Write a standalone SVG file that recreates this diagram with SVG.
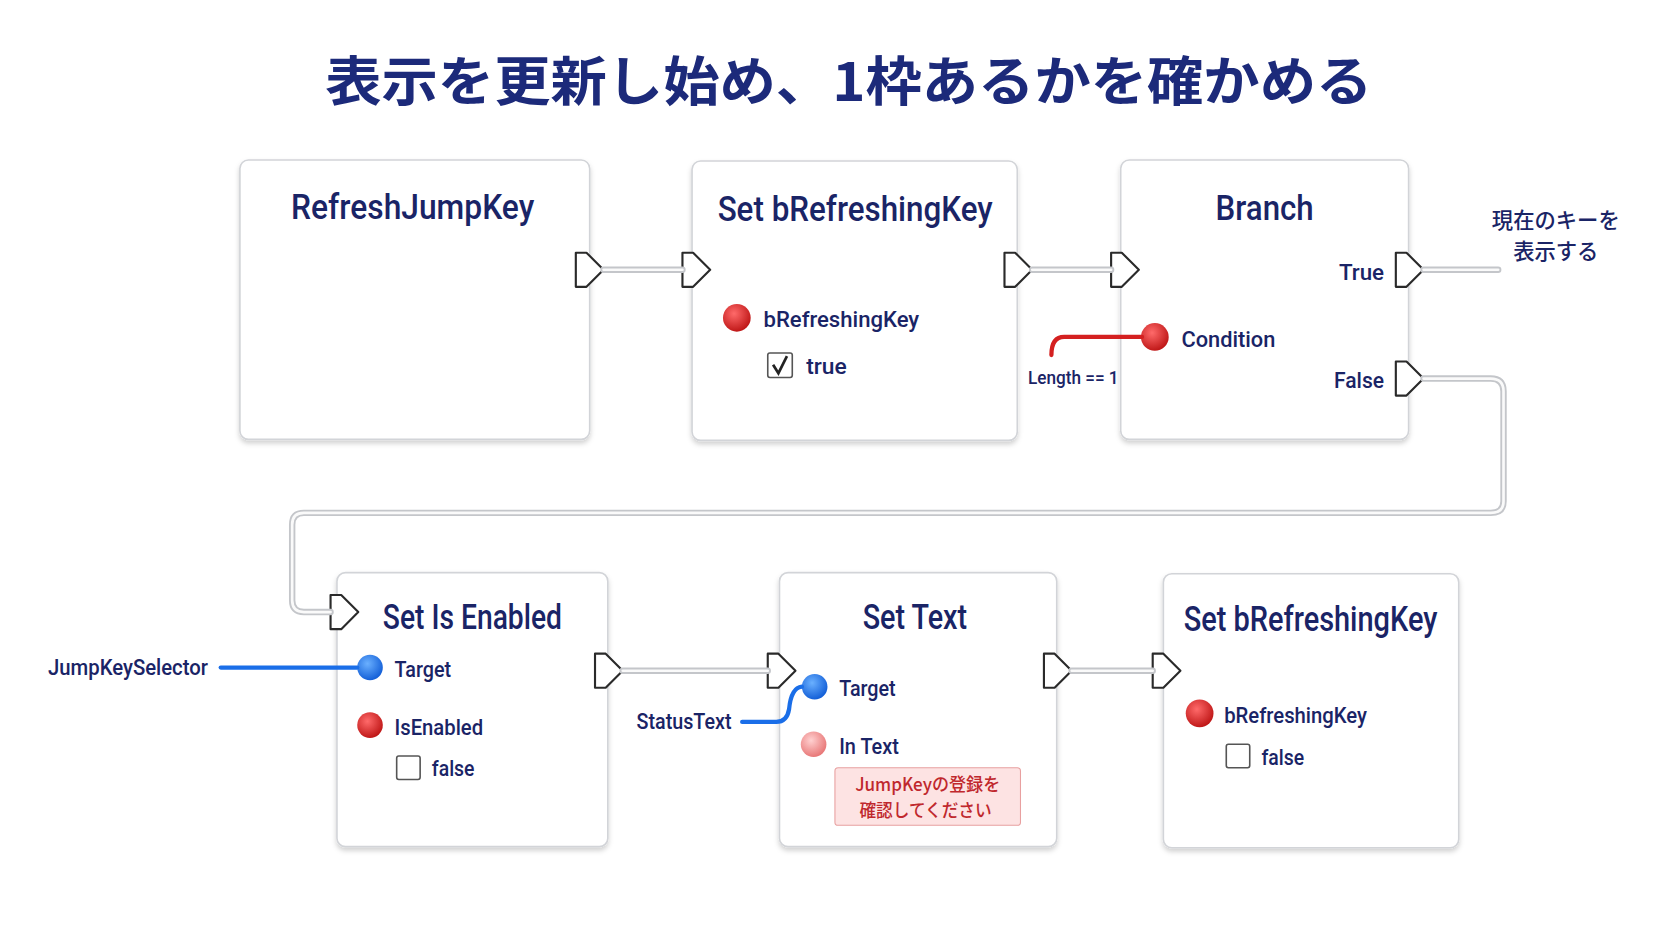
<svg xmlns="http://www.w3.org/2000/svg" width="1672" height="941" viewBox="0 0 1672 941">
<style>
.node{fill:#fff;stroke:#d2d4d8;stroke-width:1.5}
.t{font-family:Roboto,"Liberation Sans",sans-serif;fill:#1a2466;font-weight:500}
.title{font-size:33px;text-anchor:middle}
.lab{font-size:21px}
.exec{fill:#fff;stroke:#2a2a2a;stroke-width:2;stroke-linejoin:round}
.wo{fill:none;stroke:#c4c6ca;stroke-width:6;stroke-linecap:round}
.wi{fill:none;stroke:#fafafa;stroke-width:2.5;stroke-linecap:round}
.cb{fill:#fff;stroke:#555;stroke-width:1.5}
.jp{font-family:"Noto Sans CJK JP",sans-serif}
</style>
<defs>
<filter id="sh" x="-10%" y="-10%" width="120%" height="125%"><feDropShadow dx="0" dy="3" stdDeviation="2.5" flood-color="#000" flood-opacity="0.18"/></filter>
<radialGradient id="red" cx="40%" cy="35%" r="65%"><stop offset="0" stop-color="#ff6a6a"/><stop offset="1" stop-color="#c01818"/></radialGradient>
<radialGradient id="blue" cx="40%" cy="35%" r="65%"><stop offset="0" stop-color="#6ab0ff"/><stop offset="1" stop-color="#1460d8"/></radialGradient>
<radialGradient id="pink" cx="40%" cy="35%" r="65%"><stop offset="0" stop-color="#ffd0d0"/><stop offset="1" stop-color="#e87878"/></radialGradient>
<path id="ex" d="M0,-16 L10,-16 L26,0 L10,16 L0,16 Z"/>
</defs>
<g transform="scale(1.06633)">
<text x="796" y="95" text-anchor="middle" class="jp" font-size="50" font-weight="bold" fill="#1c2a7a" textLength="982" lengthAdjust="spacingAndGlyphs">表示を更新し始め、1枠あるかを確かめる</text>

<g id="n1"><rect class="node" filter="url(#sh)" x="225" y="150" width="328" height="262" rx="8"/>
<text class="t title" x="387" y="205" textLength="228" lengthAdjust="spacingAndGlyphs">RefreshJumpKey</text>
<use href="#ex" class="exec" x="540" y="253"/></g>

<g id="n2"><rect class="node" filter="url(#sh)" x="649" y="151" width="305" height="262" rx="8"/>
<text class="t title" x="802" y="207" textLength="258" lengthAdjust="spacingAndGlyphs">Set bRefreshingKey</text>
<use href="#ex" class="exec" x="640" y="253"/><use href="#ex" class="exec" x="942" y="253"/>
<circle cx="691" cy="298" r="13" fill="url(#red)"/>
<text class="t lab" x="716" y="307" textLength="146" lengthAdjust="spacingAndGlyphs">bRefreshingKey</text>
<rect class="cb" x="720" y="331" width="23" height="23" rx="2"/>
<path d="M725,342 L730,350 L738,334" fill="none" stroke="#222" stroke-width="2.5"/>
<text class="t lab" x="756" y="351" textLength="38" lengthAdjust="spacingAndGlyphs">true</text></g>

<g id="n3"><rect class="node" filter="url(#sh)" x="1051" y="150" width="270" height="262" rx="8"/>
<text class="t title" x="1186" y="206" textLength="92" lengthAdjust="spacingAndGlyphs">Branch</text>
<use href="#ex" class="exec" x="1042" y="253"/><use href="#ex" class="exec" x="1309" y="253"/><use href="#ex" class="exec" x="1309" y="355"/>
<text class="t lab" x="1298" y="263" text-anchor="end">True</text>
<text class="t lab" x="1298" y="364" text-anchor="end" textLength="47" lengthAdjust="spacingAndGlyphs">False</text>
<circle cx="1083" cy="316" r="13" fill="url(#red)"/>
<text class="t lab" x="1108" y="325" textLength="88" lengthAdjust="spacingAndGlyphs">Condition</text></g>
<text class="t" x="964" y="360" font-size="17" textLength="85" lengthAdjust="spacingAndGlyphs">Length == 1</text>
<text class="jp" x="1459" y="214" text-anchor="middle" font-size="20" fill="#1a2466" font-weight="500">現在のキーを</text>
<text class="jp" x="1459" y="243" text-anchor="middle" font-size="20" fill="#1a2466" font-weight="500">表示する</text>

<g id="n4"><rect class="node" filter="url(#sh)" x="316" y="537" width="254" height="257" rx="8"/>
<text class="t title" x="443" y="590" textLength="168" lengthAdjust="spacingAndGlyphs">Set Is Enabled</text>
<use href="#ex" class="exec" x="310" y="574"/><use href="#ex" class="exec" x="558" y="629"/>
<circle cx="347" cy="626" r="12" fill="url(#blue)"/>
<text class="t lab" x="370" y="635" textLength="53" lengthAdjust="spacingAndGlyphs">Target</text>
<circle cx="347" cy="680" r="12" fill="url(#red)"/>
<text class="t lab" x="370" y="689" textLength="83" lengthAdjust="spacingAndGlyphs">IsEnabled</text>
<rect class="cb" x="372" y="709" width="22" height="22" rx="2"/>
<text class="t lab" x="405" y="728" textLength="40" lengthAdjust="spacingAndGlyphs">false</text></g>
<text class="t" x="195" y="633" font-size="20" text-anchor="end" textLength="150" lengthAdjust="spacingAndGlyphs">JumpKeySelector</text>
<text class="t" x="686" y="684" font-size="20" text-anchor="end" textLength="89" lengthAdjust="spacingAndGlyphs">StatusText</text>

<g id="n5"><rect class="node" filter="url(#sh)" x="731" y="537" width="260" height="257" rx="8"/>
<text class="t title" x="858" y="590" textLength="98" lengthAdjust="spacingAndGlyphs">Set Text</text>
<use href="#ex" class="exec" x="720" y="629"/><use href="#ex" class="exec" x="979" y="629"/>
<circle cx="764" cy="644" r="12" fill="url(#blue)"/>
<text class="t lab" x="787" y="653" textLength="53" lengthAdjust="spacingAndGlyphs">Target</text>
<circle cx="763" cy="698" r="12" fill="url(#pink)"/>
<text class="t lab" x="787" y="707" textLength="56" lengthAdjust="spacingAndGlyphs">In Text</text>
<rect x="783" y="720" width="174" height="54" rx="3" fill="#fde3e3" stroke="#e8a0a0"/>
<text class="jp" x="870" y="742" text-anchor="middle" font-size="17" fill="#c0282d" font-weight="500" textLength="136" lengthAdjust="spacingAndGlyphs">JumpKeyの登録を</text>
<text class="jp" x="868" y="766" text-anchor="middle" font-size="17" fill="#c0282d" font-weight="500" textLength="124" lengthAdjust="spacingAndGlyphs">確認してください</text></g>

<g id="n6"><rect class="node" filter="url(#sh)" x="1091" y="538" width="277" height="257" rx="8"/>
<text class="t title" x="1229" y="592" textLength="238" lengthAdjust="spacingAndGlyphs">Set bRefreshingKey</text>
<use href="#ex" class="exec" x="1081" y="629"/>
<circle cx="1125" cy="669" r="13" fill="url(#red)"/>
<text class="t lab" x="1148" y="678" textLength="134" lengthAdjust="spacingAndGlyphs">bRefreshingKey</text>
<rect class="cb" x="1150" y="698" width="22" height="22" rx="2"/>
<text class="t lab" x="1183" y="717" textLength="40" lengthAdjust="spacingAndGlyphs">false</text></g>

<g id="connectors">
<path class="wo" d="M566,253 H640 M968,253 H1042 M1335,253 H1405 M584,629 H720 M1005,629 H1081 M1335,355 H1398 Q1410,355 1410,367 V470 Q1410,481 1398,481 H285 Q274,481 274,492 V563 Q274,574 285,574 H310"/>
<path class="wi" d="M566,253 H640 M968,253 H1042 M1335,253 H1405 M584,629 H720 M1005,629 H1081 M1335,355 H1398 Q1410,355 1410,367 V470 Q1410,481 1398,481 H285 Q274,481 274,492 V563 Q274,574 285,574 H310"/>
<path d="M1071,316 H998 Q986,316 986,333" fill="none" stroke="#d42020" stroke-width="4" stroke-linecap="round"/>
<path d="M207,626 H335" fill="none" stroke="#1a6ee8" stroke-width="4" stroke-linecap="round"/>
<path d="M696,677 H728 Q738,677 740,665 Q742,645 752,644" fill="none" stroke="#1a6ee8" stroke-width="4" stroke-linecap="round"/>
</g>
</g>
</svg>
